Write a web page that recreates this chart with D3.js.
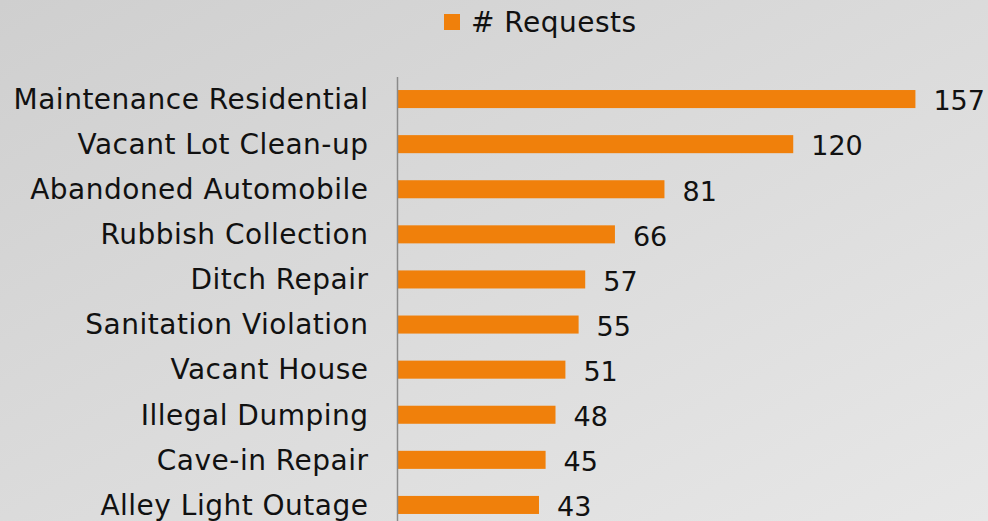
<!DOCTYPE html>
<html>
<head>
<meta charset="utf-8">
<script src="https://cdn.jsdelivr.net/npm/d3@7"></script>
<style>
  html, body { margin: 0; padding: 0; }
  body { width: 988px; height: 521px; overflow: hidden; }
  text { font-family: "DejaVu Sans", Verdana, sans-serif; fill: #111; }
</style>
</head>
<body>
<div id="chart"></div>
<script>
// chart data
var categories = ["Maintenance Residential", "Vacant Lot Clean-up", "Abandoned Automobile",
    "Rubbish Collection", "Ditch Repair", "Sanitation Violation", "Vacant House",
    "Illegal Dumping", "Cave-in Repair", "Alley Light Outage"];
var requests = [157, 120, 81, 66, 57, 55, 51, 48, 45, 43];
var seriesName = "# Requests";

var svgWidth = 988;
var svgHeight = 521;

var svg = d3.select("#chart")
    .append("svg")
    .attr("width", svgWidth)
    .attr("height", svgHeight);

// background gradient
var defs = svg.append("defs");
var grad = defs.append("linearGradient")
    .attr("id", "bg")
    .attr("x1", "0%").attr("y1", "0%")
    .attr("x2", "100%").attr("y2", "100%");
grad.append("stop").attr("offset", "0%").attr("stop-color", "#cfcfcf");
grad.append("stop").attr("offset", "100%").attr("stop-color", "#e7e7e7");

svg.append("rect")
    .attr("width", svgWidth)
    .attr("height", svgHeight)
    .attr("fill", "url(#bg)");

// plot area
var x0 = 397;
var yTop = 76.5;
var step = 45.1;

var xScale = d3.scaleLinear()
    .domain([0, 160])
    .range([x0, x0 + 160 * 3.302]);

var yScale = d3.scaleBand()
    .domain(categories)
    .range([yTop, yTop + step * categories.length])
    .paddingInner(0.6)
    .paddingOuter(0.3);

var data = categories.map((c, i) => ({ name: c, value: requests[i] }));

// bars
svg.selectAll("rect.bar")
    .data(data)
    .enter()
    .append("rect")
    .attr("class", "bar")
    .attr("x", x0 + 0.5)
    .attr("y", d => yScale(d.name))
    .attr("width", d => xScale(d.value) - x0 - 0.5)
    .attr("height", yScale.bandwidth())
    .attr("fill", "#f0800b");

// category axis
var yAxis = d3.axisLeft(yScale).tickSize(0).tickPadding(28.5);
var yAxisG = svg.append("g")
    .attr("transform", `translate(${x0}, 0)`)
    .call(yAxis);
yAxisG.select(".domain")
    .attr("stroke", "#8a8a8a")
    .attr("stroke-width", 1.5);
yAxisG.selectAll(".tick text")
    .attr("font-family", "DejaVu Sans, Verdana, sans-serif")
    .attr("font-size", 28)
    .attr("letter-spacing", "0.5px")
    .attr("fill", "#111")
    .attr("dy", "0.35em");

// value labels
svg.selectAll("text.value")
    .data(data)
    .enter()
    .append("text")
    .attr("class", "value")
    .attr("x", d => xScale(d.value) + 18)
    .attr("y", d => yScale(d.name) + yScale.bandwidth() / 2)
    .attr("dy", "0.42em")
    .attr("font-size", 27)
    .text(d => d.value);

// legend
var legend = svg.append("g").attr("transform", "translate(444, 14)");
legend.append("rect")
    .attr("width", 16)
    .attr("height", 16)
    .attr("fill", "#f0800b");
legend.append("text")
    .attr("x", 27)
    .attr("y", 18.3)
    .attr("font-size", 28)
    .attr("letter-spacing", "0.5px")
    .text(seriesName);
</script>
</body>
</html>
